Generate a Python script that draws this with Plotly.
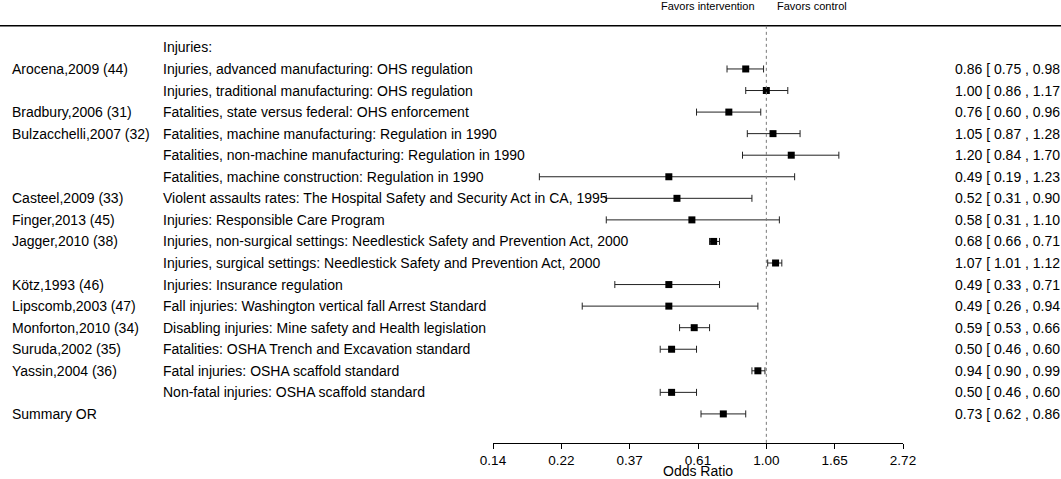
import math
import plotly.graph_objects as go

# ---- data ----
header_label = "Injuries:"
authors = ["Arocena,2009 (44)", "", "Bradbury,2006 (31)", "Bulzacchelli,2007 (32)", "", "",
           "Casteel,2009 (33)", "Finger,2013 (45)", "Jagger,2010 (38)", "", "Kötz,1993 (46)",
           "Lipscomb,2003 (47)", "Monforton,2010 (34)", "Suruda,2002 (35)", "Yassin,2004 (36)", "",
           "Summary OR"]
outcomes = [
    "Injuries, advanced manufacturing: OHS regulation",
    "Injuries, traditional manufacturing: OHS regulation",
    "Fatalities, state versus federal: OHS enforcement",
    "Fatalities, machine manufacturing: Regulation in 1990",
    "Fatalities, non-machine manufacturing: Regulation in 1990",
    "Fatalities, machine construction: Regulation in 1990",
    "Violent assaults rates: The Hospital Safety and Security Act in CA, 1995",
    "Injuries: Responsible Care Program",
    "Injuries, non-surgical settings: Needlestick Safety and Prevention Act, 2000",
    "Injuries, surgical settings: Needlestick Safety and Prevention Act, 2000",
    "Injuries: Insurance regulation",
    "Fall injuries: Washington vertical fall Arrest Standard",
    "Disabling injuries: Mine safety and Health legislation",
    "Fatalities: OSHA Trench and Excavation standard",
    "Fatal injuries: OSHA scaffold standard",
    "Non-fatal injuries: OSHA scaffold standard",
    "",
]
or_vals = [0.86, 1.00, 0.76, 1.05, 1.20, 0.49, 0.52, 0.58, 0.68, 1.07, 0.49, 0.49, 0.59, 0.50, 0.94, 0.50, 0.73]
ci_low = [0.75, 0.86, 0.60, 0.87, 0.84, 0.19, 0.31, 0.31, 0.66, 1.01, 0.33, 0.26, 0.53, 0.46, 0.90, 0.46, 0.62]
ci_high = [0.98, 1.17, 0.96, 1.28, 1.70, 1.23, 0.90, 1.10, 0.71, 1.12, 0.71, 0.94, 0.66, 0.60, 0.99, 0.60, 0.86]
tick_vals = [math.exp(v) for v in (-2, -1.5, -1, -0.5, 0, 0.5, 1)]
tick_text = ["0.14", "0.22", "0.37", "0.61", "1.00", "1.65", "2.72"]
axis_title = "Odds Ratio"
favors_left = "Favors intervention"
favors_right = "Favors control"

# ---- layout geometry ----
W, H = 1061, 479
row0_px, row_step = 47.4, 21.56          # pixel of header row, pixel per row
axis_left_px, axis_right_px = 493, 903   # pixel span of the odds-ratio axis
axis_px = 443
y_range = [(H - row0_px) / row_step, -row0_px / row_step]
FONT = "Liberation Sans, Arial, sans-serif"

rows = list(range(1, len(or_vals) + 1))

fig = go.Figure()
fig.add_trace(go.Scatter(
    x=or_vals, y=rows, mode="markers",
    marker=dict(symbol="square", size=7, color="black"),
    error_x=dict(type="data", symmetric=False,
                 array=[h - v for h, v in zip(ci_high, or_vals)],
                 arrayminus=[v - l for v, l in zip(or_vals, ci_low)],
                 color="#222222", thickness=1, width=3.5),
    hoverinfo="skip", showlegend=False, cliponaxis=False,
))

ann = []
def txt(x_px, y, s, anchor="left", size=14, yref="y"):
    ann.append(dict(x=x_px / W, xref="paper", y=y, yref=yref, text=s, showarrow=False,
                    xanchor=anchor, yanchor="middle",
                    font=dict(size=size, color="black", family=FONT)))

txt(161, 0, header_label)
for k, a, o, v, l, h in zip(rows, authors, outcomes, or_vals, ci_low, ci_high):
    if a:
        txt(10, k, a)
    if o:
        txt(161, k, o)
    # the reference picture ends at the right edge just after the upper bound
    txt(953, k, f"{v:.2f} [ {l:.2f} , {h:.2f}")
txt(757, 1 - 6 / H, favors_left, anchor="right", size=11, yref="paper")
txt(775, 1 - 6 / H, favors_right, anchor="left", size=11, yref="paper")
txt((axis_left_px + axis_right_px) / 2, 1 - 471 / H, axis_title, anchor="center", yref="paper")

shapes = [
    dict(type="line", xref="paper", x0=0, x1=1, yref="y", y0=-1, y1=-1,
         line=dict(color="black", width=1.5)),
    dict(type="line", xref="x", x0=1, x1=1, yref="y", y0=-1, y1=(axis_px - row0_px) / row_step,
         line=dict(color="#777777", width=1, dash="dot")),
]

fig.update_layout(
    template="none",
    width=W, height=H, margin=dict(l=0, r=0, t=0, b=0, pad=0, autoexpand=False),
    plot_bgcolor="rgba(0,0,0,0)", paper_bgcolor="white",
    font=dict(family=FONT, color="black"),
    xaxis=dict(type="log", domain=[axis_left_px / W, axis_right_px / W],
               range=[math.log10(tick_vals[0]), math.log10(tick_vals[-1])],
               anchor="free", position=1 - axis_px / H, automargin=False,
               showline=True, linecolor="black", linewidth=1,
               ticks="outside", ticklen=5, tickcolor="black", tickwidth=1,
               tickvals=tick_vals, ticktext=tick_text, tickfont=dict(size=13.5, family=FONT),
               showgrid=False, zeroline=False, fixedrange=True),
    yaxis=dict(range=y_range, visible=False, fixedrange=True, automargin=False),
    annotations=ann, shapes=shapes,
)

fig.write_html("out.html", config={"displayModeBar": False},
               post_script="document.body.style.margin='0';document.body.style.overflow='hidden';")
